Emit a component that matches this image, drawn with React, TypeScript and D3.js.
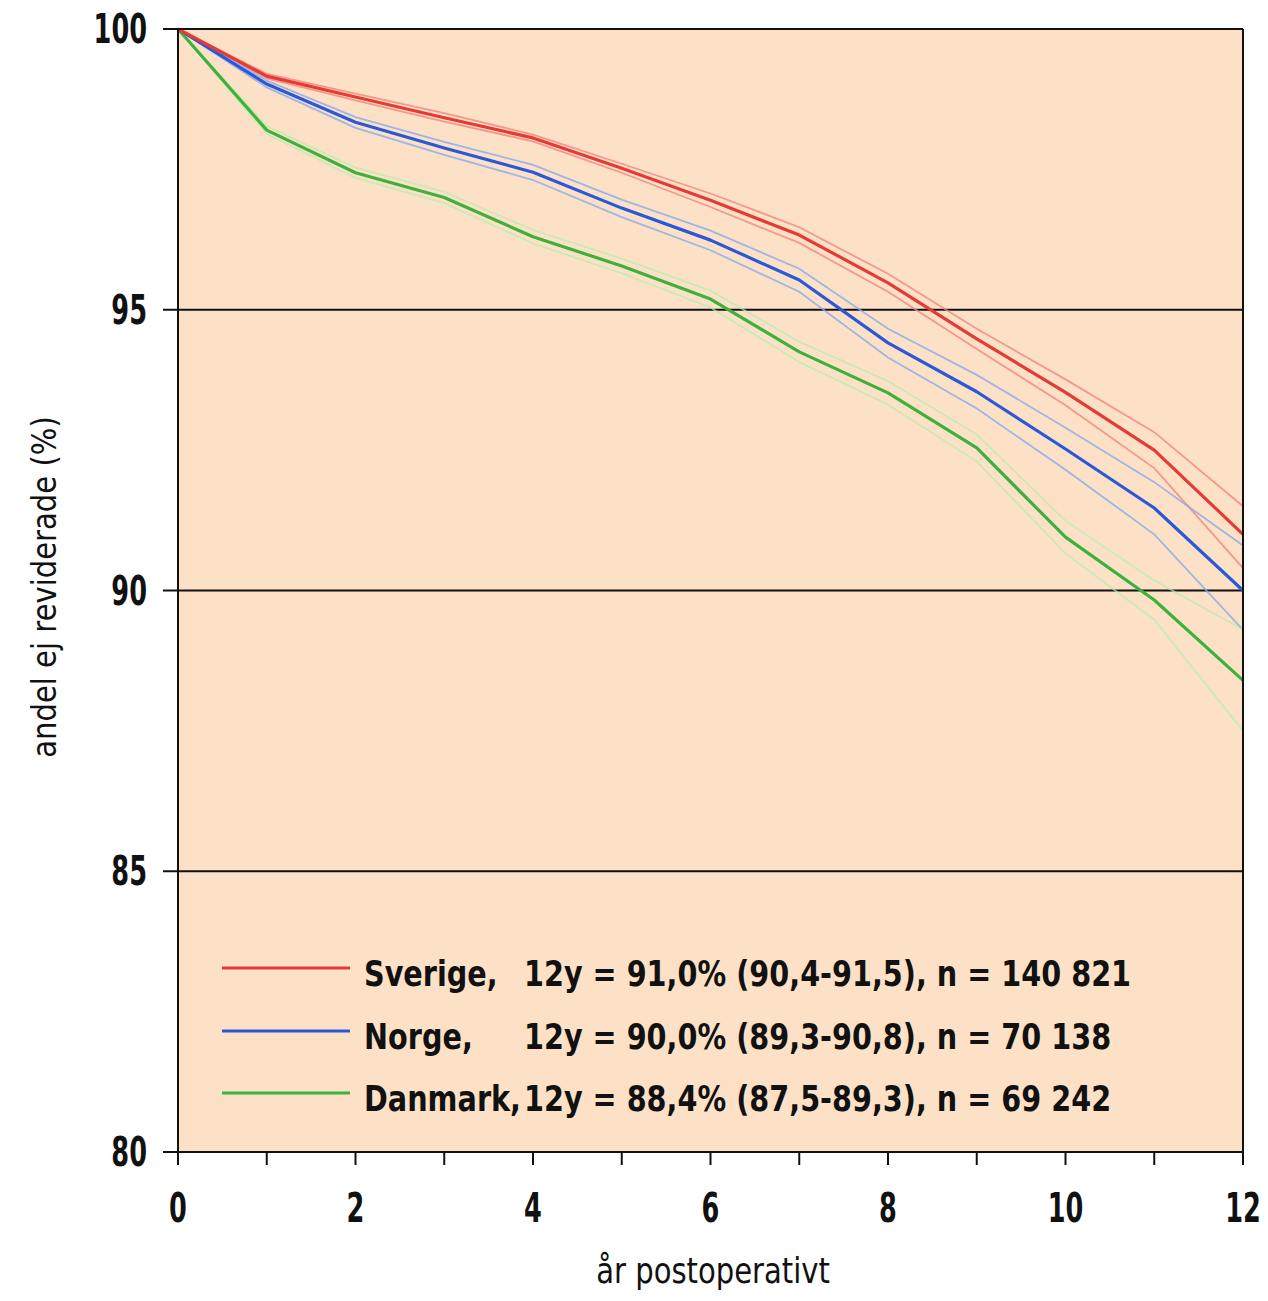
import React from "react";
import * as d3 from "d3";

const years = [0, 1, 2, 3, 4, 5, 6, 7, 8, 9, 10, 11, 12];
const xTickLabels = [0, 2, 4, 6, 8, 10, 12];
const yTicks = [80, 85, 90, 95, 100];
const gridValues = [85, 90, 95];

const sverige = [100, 99.16, 98.79, 98.42, 98.06, 97.52, 96.95, 96.33, 95.48, 94.48, 93.53, 92.5, 91.0];
const sverigeUpper = [100, 99.2, 98.85, 98.5, 98.12, 97.6, 97.07, 96.47, 95.64, 94.66, 93.76, 92.82, 91.5];
const sverigeLower = [100, 99.12, 98.73, 98.35, 98.0, 97.44, 96.83, 96.19, 95.32, 94.3, 93.3, 92.18, 90.4];

const norge = [100, 99.02, 98.34, 97.88, 97.45, 96.81, 96.24, 95.53, 94.41, 93.54, 92.52, 91.47, 90.0];
const norgeUpper = [100, 99.08, 98.43, 97.99, 97.58, 96.96, 96.41, 95.73, 94.66, 93.84, 92.9, 91.93, 90.8];
const norgeLower = [100, 98.96, 98.24, 97.76, 97.31, 96.65, 96.06, 95.32, 94.15, 93.24, 92.15, 91.0, 89.3];

const danmark = [100, 98.2, 97.44, 97.0, 96.3, 95.78, 95.19, 94.25, 93.52, 92.54, 90.95, 89.83, 88.4];
const danmarkUpper = [100, 98.27, 97.53, 97.1, 96.42, 95.91, 95.34, 94.43, 93.73, 92.78, 91.24, 90.18, 89.3];
const danmarkLower = [100, 98.13, 97.35, 96.9, 96.18, 95.65, 95.04, 94.07, 93.31, 92.3, 90.66, 89.48, 87.5];

const seriesNames = ["Sverige,", "Norge,", "Danmark,"];
const seriesStats = [
  "12y = 91,0% (90,4-91,5), n = 140 821",
  "12y = 90,0% (89,3-90,8), n = 70 138",
  "12y = 88,4% (87,5-89,3), n = 69 242",
];

const W = 1268;
const H = 1301;
const left = 178;
const right = 1243;
const top = 29;
const bottom = 1152;

const FONT = "'DejaVu Sans', sans-serif";
const SQ = 0.64;
const LEG_SQ = 0.82;

export default function App() {
  const x = d3.scaleLinear().domain([0, 12]).range([left, right]);
  const y = d3.scaleLinear().domain([80, 100]).range([bottom, top]);
  const line = d3
    .line<number>()
    .x((_, i) => x(years[i]))
    .y((d) => y(d));

  const groups = [
    { main: sverige, up: sverigeUpper, lo: sverigeLower, color: "#e63a36", ci: "#f2847a", op: 0.8 },
    { main: norge, up: norgeUpper, lo: norgeLower, color: "#2a58d8", ci: "#86aaee", op: 0.8 },
    { main: danmark, up: danmarkUpper, lo: danmarkLower, color: "#3cb23c", ci: "#b4ecae", op: 0.7 },
  ];
  const legendY = [968, 1031, 1093];
  const legendX = 364;
  const statsX = [524, 524, 524];

  return (
    <svg width={W} height={H} style={{ display: "block", position: "absolute", left: 0, top: 0 }}>
      <rect x={0} y={0} width={W} height={H} fill="#ffffff" />
      <rect x={left} y={top} width={right - left} height={bottom - top} fill="#fde1c6" />
      {gridValues.map((v) => (
        <line key={v} x1={left} x2={right} y1={y(v)} y2={y(v)} stroke="#111" strokeWidth={2} />
      ))}
      {groups.map((g, i) => (
        <g key={"ci" + i}>
          <path d={line(g.up) || ""} fill="none" stroke={g.ci} strokeWidth={1.8} opacity={g.op} />
          <path d={line(g.lo) || ""} fill="none" stroke={g.ci} strokeWidth={1.8} opacity={g.op} />
        </g>
      ))}
      {[2, 1, 0].map((i) => (
        <path key={"m" + i} d={line(groups[i].main) || ""} fill="none" stroke={groups[i].color} strokeWidth={3.2} strokeLinejoin="round" />
      ))}
      <line x1={left - 15} x2={right} y1={top} y2={top} stroke="#111" strokeWidth={2} />
      <line x1={left - 15} x2={right} y1={bottom} y2={bottom} stroke="#111" strokeWidth={2} />
      <line x1={left} x2={left} y1={top} y2={bottom + 12} stroke="#111" strokeWidth={2} />
      <line x1={right} x2={right} y1={top} y2={bottom + 12} stroke="#111" strokeWidth={2} />
      {yTicks.map((v) => (
        <g key={"yt" + v}>
          <line x1={left - 15} x2={left} y1={y(v)} y2={y(v)} stroke="#111" strokeWidth={2} />
          <text
            transform={`translate(147, ${y(v) + 14}) scale(${SQ}, 1)`}
            textAnchor="end"
            fontFamily={FONT}
            fontWeight={700}
            fontSize={40}
            fill="#111"
          >
            {v}
          </text>
        </g>
      ))}
      {years.map((t) => (
        <line key={"xt" + t} x1={x(t)} x2={x(t)} y1={bottom} y2={bottom + 13} stroke="#111" strokeWidth={2} />
      ))}
      {xTickLabels.map((t) => (
        <text
          key={"xl" + t}
          transform={`translate(${x(t)}, 1222) scale(${SQ}, 1)`}
          textAnchor="middle"
          fontFamily={FONT}
          fontWeight={700}
          fontSize={40}
          fill="#111"
        >
          {t}
        </text>
      ))}
      <text
        transform="translate(713, 1283) scale(0.83, 1)"
        textAnchor="middle"
        fontFamily={FONT}
        fontSize={35}
        fill="#111"
      >
        år postoperativt
      </text>
      <text
        transform="translate(56, 587) rotate(-90) scale(0.855, 1)"
        textAnchor="middle"
        fontFamily={FONT}
        fontSize={34}
        fill="#111"
      >
        andel ej reviderade (%)
      </text>
      {groups.map((g, i) => (
        <g key={"lg" + i}>
          <line x1={222} x2={350} y1={legendY[i]} y2={legendY[i]} stroke={g.color} strokeWidth={3.2} />
          <text
            transform={`translate(${legendX}, ${legendY[i] + 18}) scale(${LEG_SQ}, 1)`}
            fontFamily={FONT}
            fontWeight={700}
            fontSize={35}
            fill="#111"
          >
            <tspan x={0}>{seriesNames[i]}</tspan>
            <tspan x={(statsX[i] - legendX) / LEG_SQ}>{seriesStats[i]}</tspan>
          </text>
        </g>
      ))}
    </svg>
  );
}
